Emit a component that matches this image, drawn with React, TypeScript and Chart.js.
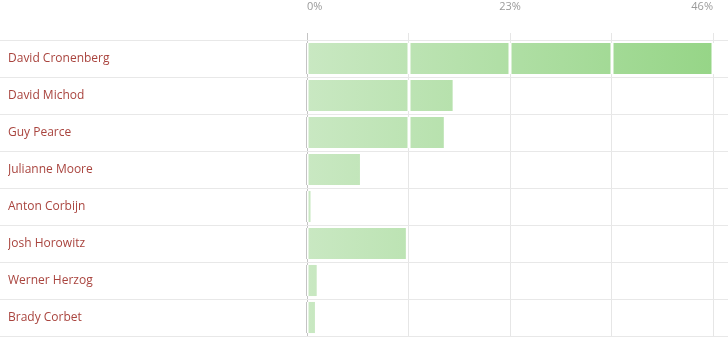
import React, { useEffect, useRef } from 'react';
import { Chart, registerables } from 'chart.js';
Chart.register(...registerables);

const categories = [
  'David Cronenberg',
  'David Michod',
  'Guy Pearce',
  'Julianne Moore',
  'Anton Corbijn',
  'Josh Horowitz',
  'Werner Herzog',
  'Brady Corbet',
];
const values = [45.9, 16.5, 15.5, 6.0, 0.4, 11.2, 1.1, 0.9];
const tickValues = [0, 11.5, 23, 34.5, 46];
const tickLabels = ['0%', '', '23%', '', '46%'];

const rowLinesPlugin = {
  id: 'rowLines',
  beforeDatasetsDraw(chart: any) {
    const y = chart.scales.y;
    const n = categories.length;
    const band = (y.bottom - y.top) / n;
    const ctx = chart.ctx;
    ctx.save();
    ctx.strokeStyle = '#e8e8e8';
    ctx.lineWidth = 1;
    for (let i = 0; i <= n; i++) {
      const py = Math.round(y.top + i * band) + 0.5;
      ctx.beginPath();
      ctx.moveTo(0, py);
      ctx.lineTo(chart.width, py);
      ctx.stroke();
    }
    ctx.restore();
  },
};

const separatorPlugin = {
  id: 'separators',
  afterDatasetsDraw(chart: any) {
    const xs = chart.scales.x;
    const meta = chart.getDatasetMeta(0);
    const ctx = chart.ctx;
    ctx.save();
    meta.data.forEach((bar: any) => {
      const top = bar.y - bar.height / 2;
      const h = bar.height;
      tickValues.forEach((v, k) => {
        const gx = Math.round(xs.getPixelForValue(v));
        if (k === 0) {
          ctx.fillStyle = '#ffffff';
          ctx.fillRect(gx, top, 1.5, h);
          ctx.fillStyle = '#c4c4c4';
          ctx.fillRect(gx - 1, top, 1, h);
        } else if (bar.x > gx - 1) {
          ctx.fillStyle = '#ffffff';
          ctx.fillRect(gx - 1.5, top, 3, h);
        }
      });
    });
    ctx.restore();
  },
};

export default function App() {
  const ref = useRef<HTMLCanvasElement | null>(null);
  useEffect(() => {
    if (!ref.current) return;
    const chart = new Chart(ref.current, {
      type: 'bar',
      data: {
        labels: categories,
        datasets: [
          {
            data: values,
            backgroundColor: (c: any) => {
              const ca = c.chart.chartArea;
              if (!ca) return '#b5e0aa';
              const g = c.chart.ctx.createLinearGradient(ca.left, 0, ca.right, 0);
              g.addColorStop(0, '#c9e8c2');
              g.addColorStop(1, '#96d587');
              return g;
            },
            borderWidth: 0,
            barPercentage: 0.84,
            categoryPercentage: 1,
          },
        ],
      },
      options: {
        indexAxis: 'y',
        animation: false,
        responsive: false,
        maintainAspectRatio: false,
        layout: { padding: { left: 8, right: 15, top: 0, bottom: 15 } },
        plugins: { legend: { display: false }, tooltip: { enabled: false } },
        scales: {
          x: {
            type: 'linear',
            position: 'top',
            min: 0,
            max: 46,
            afterBuildTicks: (s: any) => {
              s.ticks = tickValues.map((v) => ({ value: v }));
            },
            afterFit: (s: any) => {
              s.height = 40;
            },
            ticks: {
              callback: (_v: any, i: number) => tickLabels[i],
              align: 'inner',
              padding: 15,
              color: '#9a9a9a',
              font: { family: 'Open Sans', size: 11, lineHeight: 2 },
              maxRotation: 0,
              autoSkip: false,
            },
            grid: {
              color: (c: any) => (c.tick && c.tick.value === 0 ? '#c4c4c4' : '#e6e6e6'),
              tickLength: 7,
              drawTicks: true,
            },
            border: { display: false },
          },
          y: {
            type: 'category',
            afterFit: (s: any) => {
              s.width = 299;
            },
            ticks: {
              crossAlign: 'far',
              color: '#a9443e',
              font: { family: 'Open Sans', size: 12 },
            },
            grid: { display: false },
            border: { display: false },
          },
        },
      },
      plugins: [rowLinesPlugin, separatorPlugin],
    });
    return () => chart.destroy();
  }, []);
  return (
    <div style={{ position: 'fixed', left: 0, top: 0, width: 728, height: 351 }}>
      <canvas ref={ref} width={728} height={351} style={{ width: 728, height: 351 }} />
    </div>
  );
}
